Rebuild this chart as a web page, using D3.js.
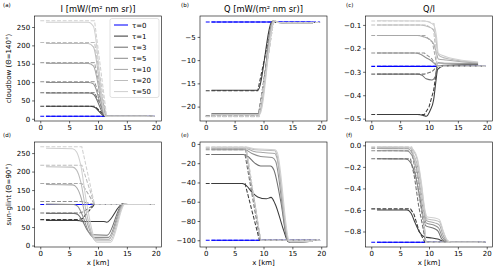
<!DOCTYPE html>
<html>
<head>
<meta charset="utf-8">
<script src="https://cdn.jsdelivr.net/npm/d3@7"></script>
<style>
  body { margin: 0; background: #fff; }
  svg { display: block; font-family: "DejaVu Sans", sans-serif; }
</style>
</head>
<body>
<svg id="chart" width="500" height="272"></svg>
<script>
// optical thickness of each curve, and its colour
const taus = [0, 1, 3, 5, 10, 20, 50];
const tauColors = ["#0000ff", "#3c3c3c", "#707070", "#8f8f8f", "#a8a8a8", "#bdbdbd", "#d0d0d0"];
const xTicks = [0, 5, 10, 15, 20];

// cloudbow, I : solid = 3D, dashed = 1D
const cloudI3d = [
  [[1, 7], [18.5, 7]],
  [[1, 34], [8.7, 34], [9.3, 32], [11.3, 7], [18.5, 7]],
  [[1, 70], [8.5, 70], [9.2, 67], [11.3, 7], [18.5, 7]],
  [[1, 99], [8.4, 99], [9.2, 95], [11.3, 7], [18.5, 7]],
  [[1, 151], [8.3, 151], [9.2, 144], [11.3, 7], [18.5, 7]],
  [[1, 205], [8.3, 205], [9.2, 196], [11.3, 7], [18.5, 7]],
  [[1, 263], [8.3, 263], [9.2, 252], [11.3, 7], [18.5, 7]]
];
const cloudI1d = [
  [[0, 7], [19.8, 7]],
  [[0, 34], [9.4, 34], [11.4, 7], [19.8, 7]],
  [[0, 71], [9.4, 71], [11.4, 7], [19.8, 7]],
  [[0, 101], [9.4, 101], [11.4, 7], [19.8, 7]],
  [[0, 153], [9.4, 153], [11.4, 7], [19.8, 7]],
  [[0, 208], [9.4, 208], [11.4, 7], [19.8, 7]],
  [[0, 267], [9.4, 267], [11.5, 7], [19.8, 7]]
];

// cloudbow, Q
const cloudQ3d = [
  [[1, -1.8], [18.5, -1.8]],
  [[1, -16.5], [9.0, -16.5], [11.5, -1.7], [12.5, -1.9], [18.5, -2.0]],
  [[1, -21.5], [9.1, -21.5], [11.7, -1.5], [12.5, -1.9], [14, -2.0], [18.5, -2.0]],
  [[1, -21.6], [9.1, -21.6], [11.7, -1.5], [12.5, -1.9], [14, -2.0], [18.5, -2.0]],
  [[1, -21.7], [9.2, -21.7], [11.8, -1.5], [12.6, -1.9], [14, -2.0], [18.5, -2.0]],
  [[1, -21.75], [9.2, -21.75], [11.8, -1.5], [12.6, -1.9], [14, -2.0], [18.5, -2.0]],
  [[1, -21.8], [9.3, -21.8], [11.9, -1.5], [12.7, -1.9], [14, -2.0], [18.5, -2.0]]
];
const cloudQ1d = [
  [[0, -1.8], [19.8, -1.8]],
  [[0, -16.6], [9.0, -16.6], [11.5, -1.9], [19.8, -1.9]],
  [[0, -22.0], [9.1, -22.0], [11.6, -1.9], [19.8, -1.9]],
  [[0, -22.05], [9.1, -22.05], [11.6, -1.9], [19.8, -1.9]],
  [[0, -22.1], [9.2, -22.1], [11.7, -1.9], [19.8, -1.9]],
  [[0, -22.15], [9.2, -22.15], [11.7, -1.9], [19.8, -1.9]],
  [[0, -22.2], [9.2, -22.2], [11.7, -1.9], [19.8, -1.9]]
];

// cloudbow, Q/I
const cloudQI3d = [
  [[1, -0.277], [18.5, -0.277]],
  [[1, -0.482], [8.0, -0.482], [9.0, -0.486], [9.5, -0.49], [10.2, -0.465], [10.8, -0.42], [11.2, -0.34], [11.5, -0.29], [12.5, -0.275], [18.5, -0.27]],
  [[1, -0.31], [8.0, -0.31], [8.8, -0.315], [9.5, -0.33], [10.5, -0.335], [11.1, -0.32], [11.4, -0.28], [12.5, -0.272], [18.5, -0.268]],
  [[1, -0.22], [7.5, -0.22], [8.5, -0.225], [9.5, -0.24], [10.5, -0.255], [11.2, -0.27], [11.6, -0.262], [13, -0.264], [18.5, -0.265]],
  [[1, -0.145], [8, -0.145], [9, -0.15], [10, -0.16], [10.8, -0.18], [11.3, -0.22], [11.6, -0.245], [13, -0.25], [16, -0.258], [18.5, -0.262]],
  [[1, -0.1], [8.5, -0.1], [9.5, -0.105], [10.5, -0.115], [11.1, -0.14], [11.5, -0.22], [12, -0.235], [14, -0.248], [18.5, -0.26]],
  [[1, -0.082], [9, -0.083], [10, -0.088], [10.8, -0.1], [11.3, -0.15], [11.6, -0.22], [12.5, -0.232], [15, -0.248], [18.5, -0.258]]
];
const cloudQI1d = [
  [[0, -0.277], [19.8, -0.277]],
  [[0, -0.482], [9.2, -0.482], [10, -0.45], [10.8, -0.38], [11.4, -0.277], [19.8, -0.277]],
  [[0, -0.31], [9.2, -0.31], [10.5, -0.3], [11.4, -0.277], [19.8, -0.277]],
  [[0, -0.22], [9.2, -0.22], [10.5, -0.245], [11.4, -0.277], [19.8, -0.277]],
  [[0, -0.145], [9.3, -0.145], [10.6, -0.175], [11.4, -0.277], [19.8, -0.277]],
  [[0, -0.1], [9.5, -0.1], [10.8, -0.12], [11.4, -0.277], [19.8, -0.277]],
  [[0, -0.083], [9.5, -0.083], [10.9, -0.095], [11.4, -0.277], [19.8, -0.277]]
];

// sun-glint, I
const glintI3d = [
  [[1, 111], [18.5, 111]],
  [[1, 68], [6.3, 68], [7.2, 66], [8, 65], [11, 65], [11.5, 63], [14.3, 113], [14.8, 111], [18.5, 111]],
  [[1, 87], [5.8, 87], [6.5, 84], [7.2, 70], [8.2, 40], [9, 29], [11.6, 28], [14.3, 113], [14.8, 111], [18.5, 111]],
  [[1, 112], [5.8, 111], [6.5, 106], [7.3, 82], [8.5, 33], [9.3, 22], [11.8, 22], [14.4, 113], [14.9, 111], [18.5, 111]],
  [[1, 165], [5.6, 164], [6.3, 157], [7, 133], [8, 68], [9.4, 18], [11.9, 17], [14.5, 113], [15, 111], [18.5, 111]],
  [[1, 213], [5.6, 212], [6.3, 204], [7, 173], [8, 88], [9.6, 13], [12.1, 13], [14.6, 113], [15.1, 111], [18.5, 111]],
  [[1, 263], [5.6, 262], [6.3, 253], [7, 218], [8, 118], [9.8, 9], [12.2, 9], [14.7, 113], [15.2, 111], [18.5, 111]]
];
const glintI1d = [
  [[0, 111], [19.8, 111]],
  [[0, 70], [6.6, 70], [7.3, 73], [9.4, 111], [19.8, 111]],
  [[0, 88], [6.8, 88], [7.4, 91], [9.4, 111], [19.8, 111]],
  [[0, 119], [7.2, 119], [9.4, 111], [19.8, 111]],
  [[0, 168], [7.2, 168], [9.4, 111], [19.8, 111]],
  [[0, 217], [7.2, 217], [9.4, 111], [19.8, 111]],
  [[0, 267], [7.2, 267], [9.4, 111], [19.8, 111]]
];

// sun-glint, Q
const glintQ3d = [
  [[1, -100], [18.5, -100]],
  [[1, -41], [6.3, -41], [7, -43], [8, -50], [9, -55], [10.5, -57], [11.3, -55.5], [12, -62], [13.5, -90], [14.2, -101], [14.7, -102], [18.5, -101]],
  [[1, -11], [6.5, -11], [7.3, -13], [8.5, -20], [9.5, -23], [11.2, -23], [11.8, -27], [13, -60], [14.2, -101], [14.7, -102], [18.5, -101]],
  [[1, -6], [6.8, -6], [8, -10], [9.5, -13], [11.5, -14], [12.1, -18], [14.3, -101], [14.8, -101.5], [18.5, -101]],
  [[1, -5], [7, -5], [8.2, -7.5], [10, -9], [12, -10], [12.3, -14], [14.3, -101], [14.8, -101.5], [18.5, -101]],
  [[1, -4], [7, -4], [8.5, -6], [12, -7], [12.3, -11], [14.4, -101], [14.9, -101.5], [18.5, -101]],
  [[1, -3.3], [7, -3.3], [8.5, -5], [12, -6], [12.4, -9], [14.5, -101], [15, -101.5], [18.5, -101]]
];
const glintQ1d = [
  [[0, -100], [19.8, -100]],
  [[0, -41], [6.8, -41], [9.3, -100], [19.8, -100]],
  [[0, -11], [6.8, -11], [9.4, -100], [19.8, -100]],
  [[0, -6], [6.9, -6], [9.5, -100], [19.8, -100]],
  [[0, -5], [6.9, -5], [9.5, -100], [19.8, -100]],
  [[0, -4], [7, -4], [9.5, -100], [19.8, -100]],
  [[0, -3.3], [7, -3.3], [9.5, -100], [19.8, -100]]
];

// sun-glint, Q/I
const glintQI3d = [
  [[1, -0.9], [18.5, -0.9]],
  [[1, -0.6], [6.2, -0.6], [6.9, -0.63], [7.6, -0.72], [8.4, -0.81], [9.2, -0.85], [10.5, -0.86], [11.5, -0.87], [12.2, -0.885], [13, -0.9], [18.5, -0.9]],
  [[1, -0.125], [6, -0.127], [6.8, -0.16], [7.6, -0.27], [8.4, -0.48], [9, -0.66], [9.4, -0.745], [11, -0.775], [11.6, -0.8], [12.2, -0.87], [13, -0.895], [14, -0.9], [18.5, -0.9]],
  [[1, -0.05], [6.2, -0.052], [7, -0.09], [7.8, -0.2], [8.5, -0.42], [9.1, -0.64], [9.5, -0.72], [11, -0.745], [11.7, -0.77], [12.3, -0.85], [13, -0.89], [14, -0.9], [18.5, -0.9]],
  [[1, -0.03], [6.3, -0.032], [7.1, -0.07], [7.9, -0.17], [8.6, -0.4], [9.2, -0.63], [9.6, -0.7], [11, -0.72], [11.8, -0.74], [12.4, -0.83], [13.2, -0.89], [14, -0.9], [18.5, -0.9]],
  [[1, -0.02], [6.5, -0.022], [7.3, -0.05], [8, -0.14], [8.7, -0.38], [9.3, -0.62], [9.7, -0.685], [11, -0.695], [11.8, -0.71], [12.5, -0.81], [13.2, -0.885], [14, -0.9], [18.5, -0.9]],
  [[1, -0.013], [6.5, -0.015], [7.3, -0.04], [8, -0.12], [8.7, -0.35], [9.3, -0.6], [9.7, -0.665], [11, -0.675], [11.8, -0.69], [12.5, -0.8], [13.2, -0.885], [14, -0.9], [18.5, -0.9]]
];
const glintQI1d = [
  [[0, -0.9], [19.8, -0.9]],
  [[0, -0.59], [6.8, -0.59], [7.4, -0.64], [8.3, -0.8], [9.3, -0.9], [19.8, -0.9]],
  [[0, -0.125], [6.8, -0.125], [7.5, -0.3], [8.2, -0.56], [9, -0.78], [9.4, -0.9], [19.8, -0.9]],
  [[0, -0.05], [7, -0.05], [8, -0.37], [8.5, -0.54], [9, -0.72], [9.45, -0.9], [19.8, -0.9]],
  [[0, -0.03], [7, -0.03], [8, -0.3], [8.5, -0.46], [9, -0.67], [9.45, -0.9], [19.8, -0.9]],
  [[0, -0.02], [7, -0.02], [8, -0.24], [8.5, -0.4], [9, -0.63], [9.45, -0.9], [19.8, -0.9]],
  [[0, -0.013], [7, -0.013], [8, -0.21], [8.5, -0.36], [9, -0.58], [9.45, -0.9], [19.8, -0.9]]
];

// layout
const lefts = [34.5, 200, 365.5];
const tops = [16, 142];
const W = 127, H = 105;

const panels = [
  { label: "(a)", row: 0, col: 0, title: "I [mW/(m\u00b2 nm sr)]", y: [-6, 280], ticks: [0, 50, 100, 150, 200, 250], fmt: "d", solid: cloudI3d, dashed: cloudI1d },
  { label: "(b)", row: 0, col: 1, title: "Q [mW/(m\u00b2 nm sr)]", y: [-23.1, -0.5], ticks: [-20, -15, -10, -5], fmt: "d", solid: cloudQ3d, dashed: cloudQ1d },
  { label: "(c)", row: 0, col: 2, title: "Q/I", y: [-0.51, -0.062], ticks: [-0.5, -0.4, -0.3, -0.2, -0.1], fmt: ".1f", solid: cloudQI3d, dashed: cloudQI1d },
  { label: "(d)", row: 1, col: 0, y: [-4, 280], ticks: [0, 50, 100, 150, 200, 250], fmt: "d", solid: glintI3d, dashed: glintI1d },
  { label: "(e)", row: 1, col: 1, y: [-107, 2], ticks: [-100, -80, -60, -40, -20, 0], fmt: "d", solid: glintQ3d, dashed: glintQ1d },
  { label: "(f)", row: 1, col: 2, y: [-0.944, 0.031], ticks: [-0.8, -0.6, -0.4, -0.2, 0], fmt: ".1f", solid: glintQI3d, dashed: glintQI1d }
];
const rowLabels = ["cloudbow (\u0398=140\u00b0)", "sun-glint (\u0398=90\u00b0)"];
const labelX = [3, 181, 346];
const labelY = [7, 137];

const svg = d3.select("#chart");
const x = d3.scaleLinear().domain([-1, 21]).range([0, W]);

panels.forEach((p, i) => {
  const g = svg.append("g").attr("transform", `translate(${lefts[p.col]},${tops[p.row]})`);
  const y = d3.scaleLinear().domain(p.y).range([H, 0]);

  g.append("clipPath").attr("id", "clip" + i)
    .append("rect").attr("width", W).attr("height", H);
  const plot = g.append("g").attr("clip-path", `url(#clip${i})`);

  const solidLine = d3.line().x(d => x(d[0])).y(d => y(d[1])).curve(d3.curveMonotoneX);
  const dashLine = d3.line().x(d => x(d[0])).y(d => y(d[1]));

  taus.forEach((t, k) => {
    plot.append("path")
      .attr("d", solidLine(p.solid[k]))
      .attr("fill", "none")
      .attr("stroke", tauColors[k])
      .attr("stroke-width", 1.05);
    plot.append("path")
      .attr("d", dashLine(p.dashed[k]))
      .attr("fill", "none")
      .attr("stroke", tauColors[k])
      .attr("stroke-width", 1.05)
      .attr("stroke-dasharray", "3.9,1.7");
  });

  // axes
  const ya = g.append("g")
    .call(d3.axisLeft(y).tickValues(p.ticks).tickFormat(d3.format(p.fmt)).tickSize(2.4).tickPadding(2));
  const xa = g.append("g")
    .attr("transform", `translate(0,${H})`)
    .call(d3.axisBottom(x).tickValues(xTicks).tickSize(2.4).tickPadding(1.5));
  [ya, xa].forEach(a => {
    a.select(".domain").remove();
    a.selectAll("line").attr("stroke", "#000").attr("stroke-width", 0.6);
    a.selectAll("text").attr("font-size", 7).attr("fill", "#000").attr("font-family", "DejaVu Sans");
  });

  g.append("rect")
    .attr("width", W).attr("height", H)
    .attr("fill", "none").attr("stroke", "#000").attr("stroke-width", 0.6);

  if (p.title) {
    g.append("text")
      .attr("x", W / 2).attr("y", -4)
      .attr("text-anchor", "middle")
      .attr("font-size", 8.3)
      .text(p.title);
  }
  if (p.row === 1) {
    g.append("text")
      .attr("x", W / 2).attr("y", H + 18)
      .attr("text-anchor", "middle")
      .attr("font-size", 7)
      .text("x [km]");
  }

  svg.append("text")
    .attr("x", labelX[p.col]).attr("y", labelY[p.row])
    .attr("font-size", 5.5)
    .text(p.label);

  // legend only in the first panel
  if (i === 0) {
    const lw = 49, lh = 79;
    const lg = g.append("g").attr("transform", `translate(${W - lw - 2.5},${2.5})`);
    lg.append("rect")
      .attr("width", lw).attr("height", lh).attr("rx", 2)
      .attr("fill", "#fff").attr("fill-opacity", 0.8)
      .attr("stroke", "#cccccc").attr("stroke-width", 0.6);
    taus.forEach((t, k) => {
      const yy = 6.5 + k * 11.1;
      lg.append("line")
        .attr("x1", 4).attr("x2", 18).attr("y1", yy).attr("y2", yy)
        .attr("stroke", tauColors[k]).attr("stroke-width", 1.05);
      lg.append("text")
        .attr("x", 22).attr("y", yy + 2.5)
        .attr("font-size", 7)
        .text("\u03c4=" + t);
    });
  }
});

rowLabels.forEach((txt, r) => {
  svg.append("text")
    .attr("transform", `translate(11,${tops[r] + H / 2}) rotate(-90)`)
    .attr("text-anchor", "middle")
    .attr("font-size", 7)
    .text(txt);
});
</script>
</body>
</html>
